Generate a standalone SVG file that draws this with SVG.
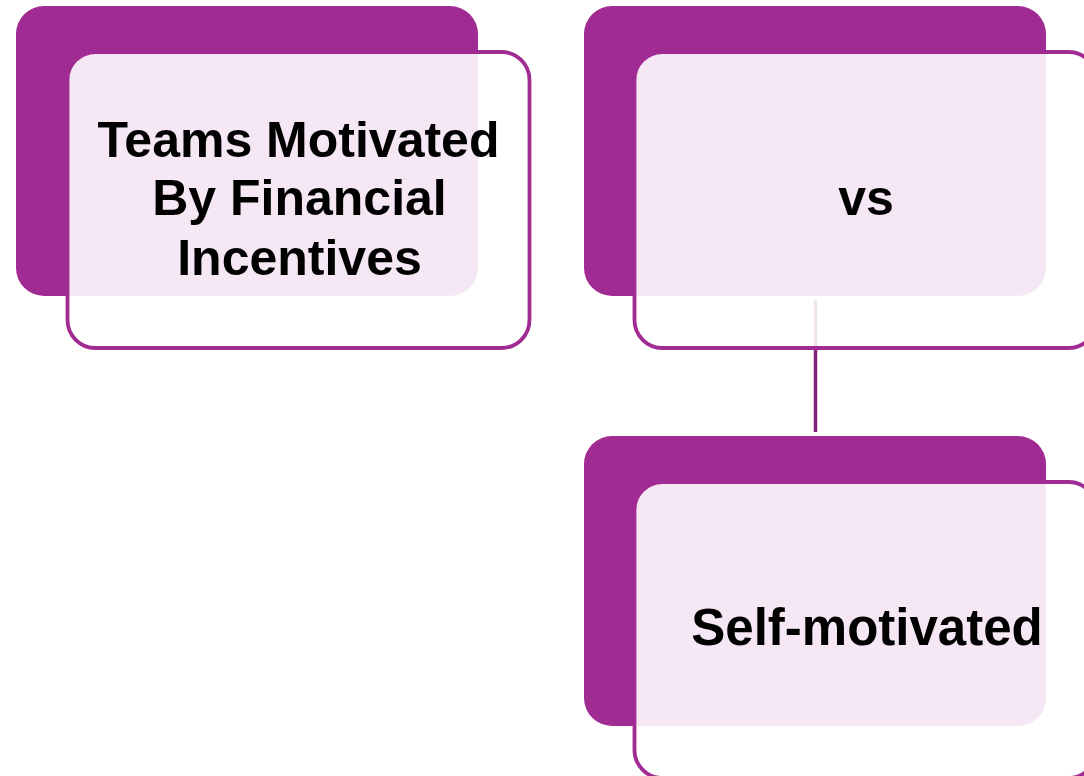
<svg xmlns="http://www.w3.org/2000/svg" width="1084" height="776" viewBox="0 0 1084 776">
<style>
.back{fill:#A02B93;}
.front{fill:#FFFFFF;fill-opacity:0.89;stroke:#A02B93;stroke-width:3.8;}
.lbl{font-family:"Liberation Sans",Arial,sans-serif;font-weight:bold;font-size:50px;fill:#000000;text-anchor:middle;}
.conn{stroke:#82217A;stroke-width:3.5;fill:none;}
</style>
<rect width="1084" height="776" fill="#FFFFFF"/>
<g id="connectors">
<line class="conn" x1="815.5" y1="300" x2="815.5" y2="432"/>
</g>
<g id="node-financial">
<rect class="back" x="16" y="6" width="462" height="290" rx="28" ry="28"/>
<rect class="front" x="67.5" y="52" width="462" height="296" rx="28" ry="28"/>
<text class="lbl" x="298.5" y="157">Teams Motivated</text>
<text class="lbl" x="299.5" y="215">By Financial</text>
<text class="lbl" x="299.5" y="275">Incentives</text>
</g>
<g id="node-vs">
<rect class="back" x="584" y="6" width="462" height="290" rx="28" ry="28"/>
<rect class="front" x="634.5" y="52" width="462" height="296" rx="28" ry="28"/>
<text class="lbl" x="866" y="215">vs</text>
</g>
<g id="node-self">
<rect class="back" x="584" y="436" width="462" height="290" rx="28" ry="28"/>
<rect class="front" x="634.5" y="482" width="462" height="296" rx="28" ry="28"/>
<text class="lbl" x="867" y="645" style="font-size:51px">Self-motivated</text>
</g>
</svg>
